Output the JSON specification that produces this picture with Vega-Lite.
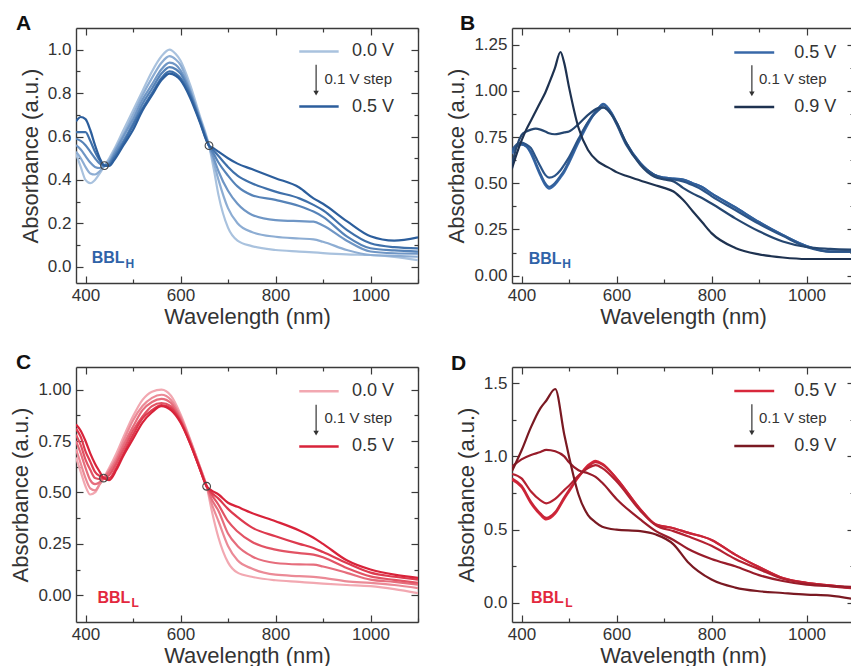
{
"$schema": "https://vega.github.io/schema/vega-lite/v6.json",
"background": "white",
"padding": {"left": 9, "top": 13, "right": 0, "bottom": 0},
"columns": 2,
"spacing": {"row": 24, "column": 26},
"resolve": {"scale": {"x": "independent", "y": "independent", "color": "independent"}},
"config": {
  "font": "Liberation Sans",
  "view": {"stroke": null},
  "axis": {"domain": false, "grid": false, "labelFontSize": 17, "labelColor": "#333", "titleFontSize": 22, "titleFontWeight": "normal", "titleColor": "#333", "tickColor": "#3a3a3a", "tickWidth": 1.2, "minExtent": 0, "labelFlush": false, "domainColor": "#3a3a3a", "domainWidth": 1.4}
},
"concat": [
{
 "width": 342, "height": 255,
 "title": {"text": "A", "anchor": "start", "frame": "group", "dx": -60, "offset": -24, "baseline": "alphabetic", "fontSize": 21, "fontWeight": "bold", "color": "#111"},
 "resolve": {"axis": {"x": "independent", "y": "independent"}},
 "layer": [
  {"data": {"values": [
    {"x":380,"a":0.52,"b":0.53,"c":0.56,"d":0.59,"e":0.62,"f":0.67},
    {"x":390,"a":0.46,"b":0.50,"c":0.54,"d":0.58,"e":0.62,"f":0.69},
    {"x":400,"a":0.40,"b":0.46,"c":0.51,"d":0.56,"e":0.62,"f":0.68},
    {"x":410,"a":0.385,"b":0.43,"c":0.48,"d":0.53,"e":0.58,"f":0.63},
    {"x":420,"a":0.40,"b":0.425,"c":0.46,"d":0.50,"e":0.53,"f":0.56},
    {"x":430,"a":0.43,"b":0.44,"c":0.455,"d":0.475,"e":0.49,"f":0.50},
    {"x":440,"a":0.466,"b":0.466,"c":0.466,"d":0.466,"e":0.466,"f":0.466},
    {"x":450,"a":0.50,"b":0.49,"c":0.48,"d":0.475,"e":0.47,"f":0.465},
    {"x":460,"a":0.54,"b":0.53,"c":0.52,"d":0.51,"e":0.50,"f":0.49},
    {"x":480,"a":0.63,"b":0.61,"c":0.60,"d":0.58,"e":0.57,"f":0.56},
    {"x":500,"a":0.72,"b":0.70,"c":0.68,"d":0.66,"e":0.65,"f":0.63},
    {"x":520,"a":0.81,"b":0.79,"c":0.77,"d":0.75,"e":0.73,"f":0.72},
    {"x":540,"a":0.90,"b":0.87,"c":0.84,"d":0.82,"e":0.80,"f":0.79},
    {"x":560,"a":0.97,"b":0.94,"c":0.91,"d":0.89,"e":0.87,"f":0.86},
    {"x":577,"a":1.00,"b":0.97,"c":0.94,"d":0.92,"e":0.90,"f":0.89},
    {"x":590,"a":0.98,"b":0.955,"c":0.93,"d":0.91,"e":0.89,"f":0.88},
    {"x":600,"a":0.95,"b":0.93,"c":0.905,"d":0.89,"e":0.87,"f":0.86},
    {"x":620,"a":0.84,"b":0.82,"c":0.81,"d":0.80,"e":0.79,"f":0.78},
    {"x":640,"a":0.70,"b":0.69,"c":0.685,"d":0.68,"e":0.675,"f":0.67},
    {"x":660,"a":0.558,"b":0.558,"c":0.558,"d":0.558,"e":0.558,"f":0.558},
    {"x":670,"a":0.45,"b":0.48,"c":0.50,"d":0.52,"e":0.535,"f":0.545},
    {"x":680,"a":0.33,"b":0.40,"c":0.44,"d":0.48,"e":0.51,"f":0.53},
    {"x":700,"a":0.18,"b":0.27,"c":0.35,"d":0.42,"e":0.46,"f":0.50},
    {"x":720,"a":0.12,"b":0.20,"c":0.29,"d":0.37,"e":0.42,"f":0.475},
    {"x":750,"a":0.095,"b":0.16,"c":0.24,"d":0.33,"e":0.385,"f":0.45},
    {"x":800,"a":0.077,"b":0.138,"c":0.215,"d":0.308,"e":0.346,"f":0.408},
    {"x":850,"a":0.07,"b":0.13,"c":0.21,"d":0.28,"e":0.315,"f":0.365},
    {"x":880,"a":0.066,"b":0.126,"c":0.208,"d":0.254,"e":0.285,"f":0.315},
    {"x":900,"a":0.063,"b":0.115,"c":0.19,"d":0.23,"e":0.26,"f":0.29},
    {"x":950,"a":0.057,"b":0.077,"c":0.12,"d":0.14,"e":0.17,"f":0.21},
    {"x":1000,"a":0.054,"b":0.054,"c":0.07,"d":0.085,"e":0.108,"f":0.14},
    {"x":1050,"a":0.045,"b":0.05,"c":0.062,"d":0.075,"e":0.09,"f":0.12},
    {"x":1100,"a":0.03,"b":0.046,"c":0.06,"d":0.07,"e":0.085,"f":0.135}
   ]},
   "transform": [{"fold": ["a","b","c","d","e","f"], "as": ["k","v"]}],
   "mark": {"type": "line", "strokeWidth": 2.2, "interpolate": "monotone", "clip": true},
   "encoding": {
     "x": {"field": "x", "type": "quantitative", "scale": {"domain": [380,1100], "nice": false, "zero": false}, "axis": {"orient": "bottom", "domain": true, "values": [400,600,800,1000], "format": "d", "tickSize": -7, "labelPadding": 11, "title": "Wavelength (nm)", "titlePadding": 3}},
     "y": {"field": "v", "type": "quantitative", "scale": {"domain": [-0.075,1.1], "nice": false, "zero": false}, "axis": {"orient": "left", "domain": true, "values": [0,0.2,0.4,0.6,0.8,1.0], "format": ".1f", "tickSize": -7, "labelPadding": 12, "title": "Absorbance (a.u.)", "titlePadding": 5}},
     "color": {"field": "k", "type": "nominal", "scale": {"domain": ["a","b","c","d","e","f"], "range": ["#a9c2de","#8dadd3","#6f96c5","#5683b8","#3f70aa","#2c5e9c"]}, "legend": null}
   }},
  {"data": {"values": [{"x":850,"x2":933,"y":0.992,"k":"a"},{"x":850,"x2":933,"y":0.738,"k":"f"}]},
   "mark": {"type": "rule", "strokeWidth": 2.5},
   "encoding": {
     "x": {"field": "x", "type": "quantitative", "axis": {"orient": "top", "domain": true, "values": [400,600,800,1000], "tickSize": -7, "labels": false, "title": null}},
     "x2": {"field": "x2"},
     "y": {"field": "y", "type": "quantitative", "axis": {"orient": "right", "domain": true, "values": [0,0.2,0.4,0.6,0.8,1.0], "tickSize": -7, "labels": false, "title": null}},
     "color": {"field": "k", "type": "nominal", "legend": null}
   }},
  {"data": {"values": [{"x":961,"y":0.992,"t":"0.0 V"},{"x":961,"y":0.738,"t":"0.5 V"}]},
   "mark": {"type": "text", "align": "left", "baseline": "middle", "fontSize": 18, "color": "#333"},
   "encoding": {
     "x": {"field": "x", "type": "quantitative", "axis": {"orient": "bottom", "values": [500,700,900,1100], "tickSize": -4, "labels": false, "title": null}},
     "y": {"field": "y", "type": "quantitative", "axis": {"orient": "left", "values": [0.1,0.3,0.5,0.7,0.9], "tickSize": -4, "labels": false, "title": null}},
     "text": {"field": "t"}
   }},
  {"data": {"values": [{"x":885.5,"y":0.931,"y2":0.80}]},
   "mark": {"type": "rule", "strokeWidth": 1.2, "color": "#333"},
   "encoding": {
     "x": {"field": "x", "type": "quantitative", "axis": {"orient": "top", "values": [500,700,900,1100], "tickSize": -4, "labels": false, "title": null}},
     "y": {"field": "y", "type": "quantitative", "axis": {"orient": "right", "values": [0.1,0.3,0.5,0.7,0.9], "tickSize": -4, "labels": false, "title": null}},
     "y2": {"field": "y2"}
   }},
  {"data": {"values": [{"x":885.5,"y":0.80}]},
   "mark": {"type": "point", "shape": "triangle-down", "filled": true, "size": 30, "color": "#333", "opacity": 1},
   "encoding": {"x": {"field": "x", "type": "quantitative", "axis": null}, "y": {"field": "y", "type": "quantitative", "axis": null}}},
  {"data": {"values": [{"x":903,"y":0.866,"t":"0.1 V step"}]},
   "mark": {"type": "text", "align": "left", "baseline": "middle", "fontSize": 15, "color": "#333"},
   "encoding": {"x": {"field": "x", "type": "quantitative", "axis": null}, "y": {"field": "y", "type": "quantitative", "axis": null}, "text": {"field": "t"}}},
  {"data": {"values": [{"x":413,"y":0.038,"t":"BBL"}]},
   "mark": {"type": "text", "align": "left", "baseline": "middle", "fontSize": 16, "fontWeight": "bold", "color": "#2f63a8"},
   "encoding": {"x": {"field": "x", "type": "quantitative", "axis": null}, "y": {"field": "y", "type": "quantitative", "axis": null}, "text": {"field": "t"}}},
  {"data": {"values": [{"x":484,"y":0.012,"t":"H"}]},
   "mark": {"type": "text", "align": "left", "baseline": "middle", "fontSize": 12, "fontWeight": "bold", "color": "#2f63a8"},
   "encoding": {"x": {"field": "x", "type": "quantitative", "axis": null}, "y": {"field": "y", "type": "quantitative", "axis": null}, "text": {"field": "t"}}},
  {"data": {"values": [{"x":440,"y":0.466},{"x":660,"y":0.558}]},
   "mark": {"type": "point", "shape": "circle", "filled": false, "size": 60, "stroke": "#444", "strokeWidth": 1.1, "opacity": 1},
   "encoding": {"x": {"field": "x", "type": "quantitative", "axis": null}, "y": {"field": "y", "type": "quantitative", "axis": null}}}
 ]
},
{
 "width": 342, "height": 255,
 "title": {"text": "B", "anchor": "start", "frame": "group", "dx": -52, "offset": -24, "baseline": "alphabetic", "fontSize": 21, "fontWeight": "bold", "color": "#111"},
 "resolve": {"axis": {"x": "independent", "y": "independent"}},
 "layer": [
  {"data": {"values": [
    {"x":380,"a":0.66,"b":0.67,"c":0.68,"d":0.60,"e":0.58},
    {"x":390,"a":0.70,"b":0.70,"c":0.71,"d":0.70,"e":0.66},
    {"x":400,"a":0.71,"b":0.71,"c":0.72,"d":0.76,"e":0.73},
    {"x":410,"a":0.70,"b":0.70,"c":0.71,"d":0.78,"e":0.79},
    {"x":420,"a":0.66,"b":0.67,"c":0.69,"d":0.79,"e":0.84},
    {"x":430,"a":0.60,"b":0.61,"c":0.64,"d":0.795,"e":0.89},
    {"x":440,"a":0.54,"b":0.55,"c":0.59,"d":0.79,"e":0.94},
    {"x":450,"a":0.49,"b":0.50,"c":0.545,"d":0.78,"e":0.99},
    {"x":458,"a":0.47,"b":0.48,"c":0.53,"d":0.77,"e":1.04},
    {"x":470,"a":0.49,"b":0.50,"c":0.54,"d":0.765,"e":1.12},
    {"x":482,"a":0.53,"b":0.54,"c":0.57,"d":0.77,"e":1.21},
    {"x":490,"a":0.56,"b":0.57,"c":0.60,"d":0.775,"e":1.15},
    {"x":500,"a":0.61,"b":0.62,"c":0.64,"d":0.78,"e":1.02},
    {"x":520,"a":0.72,"b":0.73,"c":0.74,"d":0.82,"e":0.80},
    {"x":540,"a":0.82,"b":0.83,"c":0.83,"d":0.87,"e":0.68},
    {"x":560,"a":0.90,"b":0.90,"c":0.89,"d":0.905,"e":0.62},
    {"x":572,"a":0.93,"b":0.925,"c":0.91,"d":0.91,"e":0.60},
    {"x":590,"a":0.88,"b":0.875,"c":0.87,"d":0.87,"e":0.575},
    {"x":600,"a":0.83,"b":0.825,"c":0.82,"d":0.83,"e":0.56},
    {"x":620,"a":0.72,"b":0.72,"c":0.71,"d":0.72,"e":0.54},
    {"x":650,"a":0.61,"b":0.61,"c":0.605,"d":0.60,"e":0.515},
    {"x":680,"a":0.545,"b":0.545,"c":0.545,"d":0.535,"e":0.49},
    {"x":700,"a":0.53,"b":0.53,"c":0.525,"d":0.52,"e":0.475},
    {"x":720,"a":0.525,"b":0.525,"c":0.52,"d":0.51,"e":0.455},
    {"x":740,"a":0.52,"b":0.52,"c":0.51,"d":0.475,"e":0.41},
    {"x":760,"a":0.50,"b":0.50,"c":0.49,"d":0.445,"e":0.35},
    {"x":780,"a":0.48,"b":0.48,"c":0.465,"d":0.42,"e":0.29},
    {"x":800,"a":0.445,"b":0.445,"c":0.43,"d":0.39,"e":0.23},
    {"x":850,"a":0.37,"b":0.37,"c":0.355,"d":0.31,"e":0.15},
    {"x":900,"a":0.29,"b":0.29,"c":0.28,"d":0.24,"e":0.115},
    {"x":950,"a":0.22,"b":0.22,"c":0.215,"d":0.185,"e":0.098},
    {"x":1000,"a":0.16,"b":0.16,"c":0.155,"d":0.155,"e":0.09},
    {"x":1050,"a":0.13,"b":0.13,"c":0.13,"d":0.145,"e":0.09},
    {"x":1100,"a":0.13,"b":0.13,"c":0.13,"d":0.14,"e":0.09}
   ]},
   "transform": [{"fold": ["a","b","c","d","e"], "as": ["k","v"]}],
   "mark": {"type": "line", "strokeWidth": 2.2, "interpolate": "monotone", "clip": true},
   "encoding": {
     "x": {"field": "x", "type": "quantitative", "scale": {"domain": [380,1100], "nice": false, "zero": false}, "axis": {"orient": "bottom", "domain": true, "values": [400,600,800,1000], "format": "d", "tickSize": -7, "labelPadding": 11, "title": "Wavelength (nm)", "titlePadding": 3}},
     "y": {"field": "v", "type": "quantitative", "scale": {"domain": [-0.04,1.34], "nice": false, "zero": false}, "axis": {"orient": "left", "domain": true, "values": [0,0.25,0.5,0.75,1.0,1.25], "format": ".2f", "tickSize": -7, "labelPadding": 12, "title": "Absorbance (a.u.)", "titlePadding": 5}},
     "color": {"field": "k", "type": "nominal", "scale": {"domain": ["a","b","c","d","e"], "range": ["#3868a8","#32609b","#2b5488","#254670","#1e3250"]}, "legend": null}
   }},
  {"data": {"values": [{"x":848,"x2":932,"y":1.207,"k":"a"},{"x":848,"x2":932,"y":0.912,"k":"e"}]},
   "mark": {"type": "rule", "strokeWidth": 2.5},
   "encoding": {
     "x": {"field": "x", "type": "quantitative", "axis": {"orient": "top", "domain": true, "values": [400,600,800,1000], "tickSize": -7, "labels": false, "title": null}},
     "x2": {"field": "x2"},
     "y": {"field": "y", "type": "quantitative", "axis": {"orient": "right", "domain": true, "values": [0,0.25,0.5,0.75,1.0,1.25], "tickSize": -7, "labels": false, "title": null}},
     "color": {"field": "k", "type": "nominal", "legend": null}
   }},
  {"data": {"values": [{"x":974,"y":1.207,"t":"0.5 V"},{"x":974,"y":0.912,"t":"0.9 V"}]},
   "mark": {"type": "text", "align": "left", "baseline": "middle", "fontSize": 18, "color": "#333"},
   "encoding": {
     "x": {"field": "x", "type": "quantitative", "axis": {"orient": "bottom", "values": [500,700,900,1100], "tickSize": -4, "labels": false, "title": null}},
     "y": {"field": "y", "type": "quantitative", "axis": {"orient": "left", "values": [0.125,0.375,0.625,0.875,1.125], "tickSize": -4, "labels": false, "title": null}},
     "text": {"field": "t"}
   }},
  {"data": {"values": [{"x":885,"y":1.138,"y2":0.985}]},
   "mark": {"type": "rule", "strokeWidth": 1.2, "color": "#333"},
   "encoding": {
     "x": {"field": "x", "type": "quantitative", "axis": {"orient": "top", "values": [500,700,900,1100], "tickSize": -4, "labels": false, "title": null}},
     "y": {"field": "y", "type": "quantitative", "axis": {"orient": "right", "values": [0.125,0.375,0.625,0.875,1.125], "tickSize": -4, "labels": false, "title": null}},
     "y2": {"field": "y2"}
   }},
  {"data": {"values": [{"x":885,"y":0.983}]},
   "mark": {"type": "point", "shape": "triangle-down", "filled": true, "size": 30, "color": "#333", "opacity": 1},
   "encoding": {"x": {"field": "x", "type": "quantitative", "axis": null}, "y": {"field": "y", "type": "quantitative", "axis": null}}},
  {"data": {"values": [{"x":900,"y":1.062,"t":"0.1 V step"}]},
   "mark": {"type": "text", "align": "left", "baseline": "middle", "fontSize": 15, "color": "#333"},
   "encoding": {"x": {"field": "x", "type": "quantitative", "axis": null}, "y": {"field": "y", "type": "quantitative", "axis": null}, "text": {"field": "t"}}},
  {"data": {"values": [{"x":415,"y":0.09,"t":"BBL"}]},
   "mark": {"type": "text", "align": "left", "baseline": "middle", "fontSize": 16, "fontWeight": "bold", "color": "#2f63a8"},
   "encoding": {"x": {"field": "x", "type": "quantitative", "axis": null}, "y": {"field": "y", "type": "quantitative", "axis": null}, "text": {"field": "t"}}},
  {"data": {"values": [{"x":486,"y":0.063,"t":"H"}]},
   "mark": {"type": "text", "align": "left", "baseline": "middle", "fontSize": 12, "fontWeight": "bold", "color": "#2f63a8"},
   "encoding": {"x": {"field": "x", "type": "quantitative", "axis": null}, "y": {"field": "y", "type": "quantitative", "axis": null}, "text": {"field": "t"}}}
 ]
},
{
 "width": 342, "height": 255,
 "title": {"text": "C", "anchor": "start", "frame": "group", "dx": -60, "offset": -23.5, "baseline": "alphabetic", "fontSize": 21, "fontWeight": "bold", "color": "#111"},
 "resolve": {"axis": {"x": "independent", "y": "independent"}},
 "layer": [
  {"data": {"values": [
    {"x":380,"a":0.67,"b":0.71,"c":0.75,"d":0.78,"e":0.81,"f":0.83},
    {"x":390,"a":0.60,"b":0.64,"c":0.69,"d":0.73,"e":0.77,"f":0.80},
    {"x":400,"a":0.53,"b":0.57,"c":0.62,"d":0.66,"e":0.70,"f":0.75},
    {"x":410,"a":0.49,"b":0.52,"c":0.56,"d":0.61,"e":0.65,"f":0.69},
    {"x":420,"a":0.50,"b":0.51,"c":0.54,"d":0.57,"e":0.60,"f":0.64},
    {"x":430,"a":0.54,"b":0.54,"c":0.55,"d":0.565,"e":0.58,"f":0.60},
    {"x":438,"a":0.57,"b":0.57,"c":0.57,"d":0.57,"e":0.57,"f":0.57},
    {"x":450,"a":0.62,"b":0.61,"c":0.60,"d":0.585,"e":0.57,"f":0.56},
    {"x":465,"a":0.69,"b":0.67,"c":0.655,"d":0.64,"e":0.62,"f":0.61},
    {"x":480,"a":0.77,"b":0.75,"c":0.73,"d":0.71,"e":0.69,"f":0.68},
    {"x":500,"a":0.87,"b":0.85,"c":0.82,"d":0.80,"e":0.78,"f":0.76},
    {"x":520,"a":0.95,"b":0.92,"c":0.90,"d":0.87,"e":0.86,"f":0.84},
    {"x":540,"a":0.99,"b":0.96,"c":0.94,"d":0.92,"e":0.90,"f":0.89},
    {"x":560,"a":1.00,"b":0.975,"c":0.955,"d":0.935,"e":0.925,"f":0.92},
    {"x":580,"a":0.97,"b":0.95,"c":0.935,"d":0.92,"e":0.91,"f":0.90},
    {"x":600,"a":0.88,"b":0.87,"c":0.86,"d":0.85,"e":0.845,"f":0.84},
    {"x":620,"a":0.76,"b":0.755,"c":0.75,"d":0.745,"e":0.74,"f":0.74},
    {"x":640,"a":0.63,"b":0.63,"c":0.625,"d":0.62,"e":0.62,"f":0.62},
    {"x":655,"a":0.53,"b":0.53,"c":0.53,"d":0.53,"e":0.53,"f":0.53},
    {"x":665,"a":0.42,"b":0.45,"c":0.47,"d":0.49,"e":0.50,"f":0.51},
    {"x":680,"a":0.28,"b":0.36,"c":0.41,"d":0.44,"e":0.47,"f":0.49},
    {"x":700,"a":0.16,"b":0.24,"c":0.30,"d":0.36,"e":0.42,"f":0.45},
    {"x":720,"a":0.11,"b":0.17,"c":0.24,"d":0.31,"e":0.38,"f":0.43},
    {"x":750,"a":0.09,"b":0.13,"c":0.19,"d":0.26,"e":0.33,"f":0.40},
    {"x":800,"a":0.073,"b":0.10,"c":0.157,"d":0.222,"e":0.287,"f":0.36},
    {"x":850,"a":0.065,"b":0.093,"c":0.15,"d":0.205,"e":0.25,"f":0.315},
    {"x":880,"a":0.06,"b":0.089,"c":0.149,"d":0.198,"e":0.23,"f":0.28},
    {"x":900,"a":0.057,"b":0.085,"c":0.14,"d":0.185,"e":0.21,"f":0.25},
    {"x":950,"a":0.05,"b":0.068,"c":0.109,"d":0.133,"e":0.157,"f":0.17},
    {"x":1000,"a":0.044,"b":0.06,"c":0.076,"d":0.092,"e":0.11,"f":0.125},
    {"x":1050,"a":0.03,"b":0.05,"c":0.065,"d":0.075,"e":0.09,"f":0.10},
    {"x":1100,"a":0.01,"b":0.035,"c":0.052,"d":0.06,"e":0.076,"f":0.085}
   ]},
   "transform": [{"fold": ["a","b","c","d","e","f"], "as": ["k","v"]}],
   "mark": {"type": "line", "strokeWidth": 2.2, "interpolate": "monotone", "clip": true},
   "encoding": {
     "x": {"field": "x", "type": "quantitative", "scale": {"domain": [380,1100], "nice": false, "zero": false}, "axis": {"orient": "bottom", "domain": true, "values": [400,600,800,1000], "format": "d", "tickSize": -7, "labelPadding": 11, "title": "Wavelength (nm)", "titlePadding": 3}},
     "y": {"field": "v", "type": "quantitative", "scale": {"domain": [-0.13,1.11], "nice": false, "zero": false}, "axis": {"orient": "left", "domain": true, "values": [0,0.25,0.5,0.75,1.0], "format": ".2f", "tickSize": -7, "labelPadding": 12, "title": "Absorbance (a.u.)", "titlePadding": 5}},
     "color": {"field": "k", "type": "nominal", "scale": {"domain": ["a","b","c","d","e","f"], "range": ["#f2a8b1","#eb8a96","#e66d7c","#e25364","#dd3a4e","#d8233a"]}, "legend": null}
   }},
  {"data": {"values": [{"x":850,"x2":933,"y":0.992,"k":"a"},{"x":850,"x2":933,"y":0.724,"k":"f"}]},
   "mark": {"type": "rule", "strokeWidth": 2.5},
   "encoding": {
     "x": {"field": "x", "type": "quantitative", "axis": {"orient": "top", "domain": true, "values": [400,600,800,1000], "tickSize": -7, "labels": false, "title": null}},
     "x2": {"field": "x2"},
     "y": {"field": "y", "type": "quantitative", "axis": {"orient": "right", "domain": true, "values": [0,0.25,0.5,0.75,1.0], "tickSize": -7, "labels": false, "title": null}},
     "color": {"field": "k", "type": "nominal", "legend": null}
   }},
  {"data": {"values": [{"x":961,"y":0.992,"t":"0.0 V"},{"x":961,"y":0.724,"t":"0.5 V"}]},
   "mark": {"type": "text", "align": "left", "baseline": "middle", "fontSize": 18, "color": "#333"},
   "encoding": {
     "x": {"field": "x", "type": "quantitative", "axis": {"orient": "bottom", "values": [500,700,900,1100], "tickSize": -4, "labels": false, "title": null}},
     "y": {"field": "y", "type": "quantitative", "axis": {"orient": "left", "values": [0.125,0.375,0.625,0.875], "tickSize": -4, "labels": false, "title": null}},
     "text": {"field": "t"}
   }},
  {"data": {"values": [{"x":885.5,"y":0.927,"y2":0.79}]},
   "mark": {"type": "rule", "strokeWidth": 1.2, "color": "#333"},
   "encoding": {
     "x": {"field": "x", "type": "quantitative", "axis": {"orient": "top", "values": [500,700,900,1100], "tickSize": -4, "labels": false, "title": null}},
     "y": {"field": "y", "type": "quantitative", "axis": {"orient": "right", "values": [0.125,0.375,0.625,0.875], "tickSize": -4, "labels": false, "title": null}},
     "y2": {"field": "y2"}
   }},
  {"data": {"values": [{"x":885.5,"y":0.788}]},
   "mark": {"type": "point", "shape": "triangle-down", "filled": true, "size": 30, "color": "#333", "opacity": 1},
   "encoding": {"x": {"field": "x", "type": "quantitative", "axis": null}, "y": {"field": "y", "type": "quantitative", "axis": null}}},
  {"data": {"values": [{"x":903,"y":0.862,"t":"0.1 V step"}]},
   "mark": {"type": "text", "align": "left", "baseline": "middle", "fontSize": 15, "color": "#333"},
   "encoding": {"x": {"field": "x", "type": "quantitative", "axis": null}, "y": {"field": "y", "type": "quantitative", "axis": null}, "text": {"field": "t"}}},
  {"data": {"values": [{"x":425,"y":-0.013,"t":"BBL"}]},
   "mark": {"type": "text", "align": "left", "baseline": "middle", "fontSize": 16, "fontWeight": "bold", "color": "#e3283e"},
   "encoding": {"x": {"field": "x", "type": "quantitative", "axis": null}, "y": {"field": "y", "type": "quantitative", "axis": null}, "text": {"field": "t"}}},
  {"data": {"values": [{"x":497,"y":-0.037,"t":"L"}]},
   "mark": {"type": "text", "align": "left", "baseline": "middle", "fontSize": 12, "fontWeight": "bold", "color": "#e3283e"},
   "encoding": {"x": {"field": "x", "type": "quantitative", "axis": null}, "y": {"field": "y", "type": "quantitative", "axis": null}, "text": {"field": "t"}}},
  {"data": {"values": [{"x":438,"y":0.57},{"x":655,"y":0.53}]},
   "mark": {"type": "point", "shape": "circle", "filled": false, "size": 60, "stroke": "#444", "strokeWidth": 1.1, "opacity": 1},
   "encoding": {"x": {"field": "x", "type": "quantitative", "axis": null}, "y": {"field": "y", "type": "quantitative", "axis": null}}}
 ]
},
{
 "width": 342, "height": 255,
 "title": {"text": "D", "anchor": "start", "frame": "group", "dx": -61, "offset": -24.5, "baseline": "alphabetic", "fontSize": 21, "fontWeight": "bold", "color": "#111"},
 "resolve": {"axis": {"x": "independent", "y": "independent"}},
 "layer": [
  {"data": {"values": [
    {"x":380,"a":0.84,"b":0.85,"c":0.88,"d":0.93,"e":0.90},
    {"x":400,"a":0.79,"b":0.80,"c":0.85,"d":0.98,"e":1.04},
    {"x":420,"a":0.68,"b":0.69,"c":0.76,"d":1.01,"e":1.20},
    {"x":440,"a":0.60,"b":0.61,"c":0.70,"d":1.03,"e":1.33},
    {"x":452,"a":0.57,"b":0.58,"c":0.68,"d":1.045,"e":1.38},
    {"x":471,"a":0.61,"b":0.62,"c":0.71,"d":1.035,"e":1.46},
    {"x":490,"a":0.71,"b":0.72,"c":0.77,"d":1.00,"e":1.15},
    {"x":500,"a":0.76,"b":0.77,"c":0.80,"d":0.96,"e":1.00},
    {"x":520,"a":0.86,"b":0.86,"c":0.87,"d":0.905,"e":0.74},
    {"x":540,"a":0.94,"b":0.93,"c":0.92,"d":0.885,"e":0.60},
    {"x":556,"a":0.97,"b":0.96,"c":0.94,"d":0.86,"e":0.55},
    {"x":570,"a":0.95,"b":0.945,"c":0.92,"d":0.82,"e":0.52},
    {"x":600,"a":0.85,"b":0.85,"c":0.83,"d":0.71,"e":0.50},
    {"x":650,"a":0.64,"b":0.64,"c":0.63,"d":0.57,"e":0.49},
    {"x":683,"a":0.535,"b":0.535,"c":0.53,"d":0.49,"e":0.467},
    {"x":720,"a":0.51,"b":0.51,"c":0.49,"d":0.43,"e":0.40},
    {"x":750,"a":0.48,"b":0.48,"c":0.455,"d":0.37,"e":0.28},
    {"x":800,"a":0.43,"b":0.43,"c":0.39,"d":0.30,"e":0.16},
    {"x":850,"a":0.33,"b":0.33,"c":0.30,"d":0.25,"e":0.105},
    {"x":900,"a":0.245,"b":0.245,"c":0.23,"d":0.19,"e":0.08},
    {"x":950,"a":0.17,"b":0.17,"c":0.165,"d":0.15,"e":0.068},
    {"x":1000,"a":0.137,"b":0.137,"c":0.135,"d":0.125,"e":0.057},
    {"x":1050,"a":0.12,"b":0.12,"c":0.115,"d":0.115,"e":0.05},
    {"x":1100,"a":0.10,"b":0.10,"c":0.10,"d":0.11,"e":0.025}
   ]},
   "transform": [{"fold": ["a","b","c","d","e"], "as": ["k","v"]}],
   "mark": {"type": "line", "strokeWidth": 2.2, "interpolate": "monotone", "clip": true},
   "encoding": {
     "x": {"field": "x", "type": "quantitative", "scale": {"domain": [380,1100], "nice": false, "zero": false}, "axis": {"orient": "bottom", "domain": true, "values": [400,600,800,1000], "format": "d", "tickSize": -7, "labelPadding": 11, "title": "Wavelength (nm)", "titlePadding": 3}},
     "y": {"field": "v", "type": "quantitative", "scale": {"domain": [-0.13,1.61], "nice": false, "zero": false}, "axis": {"orient": "left", "domain": true, "values": [0,0.5,1.0,1.5], "format": ".1f", "tickSize": -7, "labelPadding": 12, "title": "Absorbance (a.u.)", "titlePadding": 5}},
     "color": {"field": "k", "type": "nominal", "scale": {"domain": ["a","b","c","d","e"], "range": ["#d8283b","#c82538","#b42131","#981c2a","#7a1922"]}, "legend": null}
   }},
  {"data": {"values": [{"x":848,"x2":932,"y":1.447,"k":"a"},{"x":848,"x2":932,"y":1.071,"k":"e"}]},
   "mark": {"type": "rule", "strokeWidth": 2.5},
   "encoding": {
     "x": {"field": "x", "type": "quantitative", "axis": {"orient": "top", "domain": true, "values": [400,600,800,1000], "tickSize": -7, "labels": false, "title": null}},
     "x2": {"field": "x2"},
     "y": {"field": "y", "type": "quantitative", "axis": {"orient": "right", "domain": true, "values": [0,0.5,1.0,1.5], "tickSize": -7, "labels": false, "title": null}},
     "color": {"field": "k", "type": "nominal", "legend": null}
   }},
  {"data": {"values": [{"x":974,"y":1.447,"t":"0.5 V"},{"x":974,"y":1.071,"t":"0.9 V"}]},
   "mark": {"type": "text", "align": "left", "baseline": "middle", "fontSize": 18, "color": "#333"},
   "encoding": {
     "x": {"field": "x", "type": "quantitative", "axis": {"orient": "bottom", "values": [500,700,900,1100], "tickSize": -4, "labels": false, "title": null}},
     "y": {"field": "y", "type": "quantitative", "axis": {"orient": "left", "values": [0.25,0.75,1.25], "tickSize": -4, "labels": false, "title": null}},
     "text": {"field": "t"}
   }},
  {"data": {"values": [{"x":885,"y":1.356,"y2":1.16}]},
   "mark": {"type": "rule", "strokeWidth": 1.2, "color": "#333"},
   "encoding": {
     "x": {"field": "x", "type": "quantitative", "axis": {"orient": "top", "values": [500,700,900,1100], "tickSize": -4, "labels": false, "title": null}},
     "y": {"field": "y", "type": "quantitative", "axis": {"orient": "right", "values": [0.25,0.75,1.25], "tickSize": -4, "labels": false, "title": null}},
     "y2": {"field": "y2"}
   }},
  {"data": {"values": [{"x":885,"y":1.16}]},
   "mark": {"type": "point", "shape": "triangle-down", "filled": true, "size": 30, "color": "#333", "opacity": 1},
   "encoding": {"x": {"field": "x", "type": "quantitative", "axis": null}, "y": {"field": "y", "type": "quantitative", "axis": null}}},
  {"data": {"values": [{"x":900,"y":1.265,"t":"0.1 V step"}]},
   "mark": {"type": "text", "align": "left", "baseline": "middle", "fontSize": 15, "color": "#333"},
   "encoding": {"x": {"field": "x", "type": "quantitative", "axis": null}, "y": {"field": "y", "type": "quantitative", "axis": null}, "text": {"field": "t"}}},
  {"data": {"values": [{"x":420,"y":0.034,"t":"BBL"}]},
   "mark": {"type": "text", "align": "left", "baseline": "middle", "fontSize": 16, "fontWeight": "bold", "color": "#e3283e"},
   "encoding": {"x": {"field": "x", "type": "quantitative", "axis": null}, "y": {"field": "y", "type": "quantitative", "axis": null}, "text": {"field": "t"}}},
  {"data": {"values": [{"x":492,"y":0.0,"t":"L"}]},
   "mark": {"type": "text", "align": "left", "baseline": "middle", "fontSize": 12, "fontWeight": "bold", "color": "#e3283e"},
   "encoding": {"x": {"field": "x", "type": "quantitative", "axis": null}, "y": {"field": "y", "type": "quantitative", "axis": null}, "text": {"field": "t"}}}
 ]
}
]
}
